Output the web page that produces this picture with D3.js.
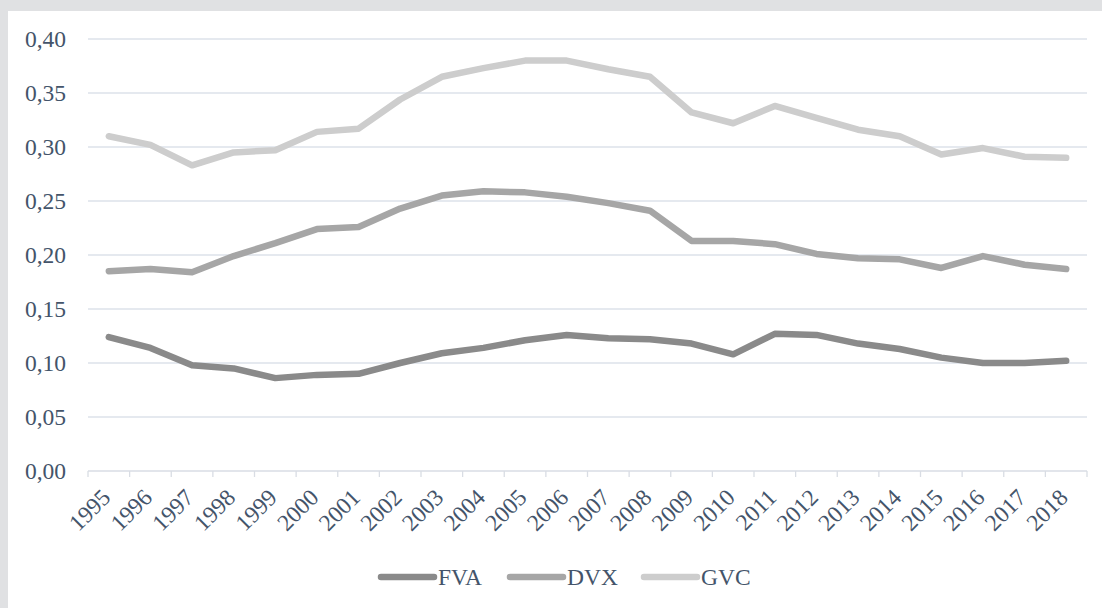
<!DOCTYPE html>
<html>
<head>
<meta charset="utf-8">
<script src="https://cdn.jsdelivr.net/npm/d3@7"></script>
<style>
  html, body { margin: 0; padding: 0; background: #e0e1e3; }
  svg { display: block; }
</style>
</head>
<body>
<svg id="chart" width="1102" height="608"></svg>
<script>
const years = ['1995','1996','1997','1998','1999','2000','2001','2002','2003','2004','2005','2006',
  '2007','2008','2009','2010','2011','2012','2013','2014','2015','2016','2017','2018'];

const fva = [0.124,0.114,0.098,0.095,0.086,0.089,0.090,0.100,0.109,0.114,0.121,0.126,
  0.123,0.122,0.118,0.108,0.127,0.126,0.118,0.113,0.105,0.100,0.100,0.102];
const dvx = [0.185,0.187,0.184,0.199,0.211,0.224,0.226,0.243,0.255,0.259,0.258,0.254,
  0.248,0.241,0.213,0.213,0.210,0.201,0.197,0.196,0.188,0.199,0.191,0.187];
const gvc = [0.310,0.302,0.283,0.295,0.297,0.314,0.317,0.344,0.365,0.373,0.380,0.380,
  0.372,0.365,0.332,0.322,0.338,0.327,0.316,0.310,0.293,0.299,0.291,0.290];

const seriesNames = ['FVA','DVX','GVC'];
const yTicks = [0,0.05,0.10,0.15,0.20,0.25,0.30,0.35,0.40];

const series = [
  {name: seriesNames[0], values: fva, color: '#8a8a8a'},
  {name: seriesNames[1], values: dvx, color: '#a6a6a6'},
  {name: seriesNames[2], values: gvc, color: '#cdcdcd'}
];

const FONT = "'Liberation Serif', 'Times New Roman', 'DejaVu Serif', serif";
const TEXT = '#44546a';

const svg = d3.select('#chart')
  .attr('font-family', FONT);

// white panel
svg.append('rect')
  .attr('x', 8).attr('y', 11)
  .attr('width', 1102 - 8).attr('height', 608 - 11)
  .attr('fill', '#fff');

const x = d3.scaleBand().domain(years).range([88, 1087]);
const y = d3.scaleLinear().domain([0, 0.40]).range([471, 39]);

const fmt = d => d3.format('.2f')(d).replace('.', ',');

// gridlines
svg.append('g')
  .selectAll('line')
  .data(yTicks.filter(d => d > 0))
  .enter().append('line')
  .attr('x1', 88).attr('x2', 1087)
  .attr('y1', d => y(d)).attr('y2', d => y(d))
  .attr('stroke', '#dde2ea')
  .attr('stroke-width', 1.3);

// y labels
svg.append('g')
  .selectAll('text')
  .data(yTicks)
  .enter().append('text')
  .attr('x', 66)
  .attr('y', d => y(d))
  .attr('dy', '0.34em')
  .attr('text-anchor', 'end')
  .attr('font-family', FONT)
  .attr('font-size', 23.5)
  .attr('fill', TEXT)
  .text(fmt);

// x axis line, ticks sit on the band edges
const xAxis = svg.append('g')
  .attr('transform', 'translate(0,471)');
xAxis.append('line')
  .attr('x1', 88).attr('x2', 1087)
  .attr('stroke', '#d9dde4').attr('stroke-width', 1.3);
const edges = years.map(d => x(d)).concat([x.range()[1]]);
xAxis.selectAll('.edge')
  .data(edges)
  .enter().append('line')
  .attr('x1', d => d).attr('x2', d => d)
  .attr('y1', 0).attr('y2', 6)
  .attr('stroke', '#d9dde4').attr('stroke-width', 1.3);

svg.append('g')
  .selectAll('text')
  .data(years)
  .enter().append('text')
  .attr('transform', d => `translate(${x(d) + x.bandwidth() / 2 + 3},499) rotate(-45)`)
  .attr('text-anchor', 'end')
  .attr('font-family', FONT)
  .attr('font-size', 23.5)
  .attr('fill', TEXT)
  .text(d => d);

// lines
const line = d3.line()
  .x((d, i) => x(years[i]) + x.bandwidth() / 2)
  .y(d => y(d));

svg.append('g')
  .selectAll('path')
  .data(series.slice().reverse())
  .enter().append('path')
  .attr('d', d => line(d.values))
  .attr('fill', 'none')
  .attr('stroke', d => d.color)
  .attr('stroke-width', 6.5)
  .attr('stroke-linejoin', 'round')
  .attr('stroke-linecap', 'round');

// legend
const legendX = [379, 508, 642];
const leg = svg.append('g')
  .selectAll('g')
  .data(series)
  .enter().append('g')
  .attr('transform', (d, i) => `translate(${legendX[i]},577)`);
leg.append('line')
  .attr('x1', 2).attr('x2', 55)
  .attr('stroke', d => d.color)
  .attr('stroke-width', 6.5)
  .attr('stroke-linecap', 'round');
leg.append('text')
  .attr('x', 59)
  .attr('dy', '0.34em')
  .attr('font-family', FONT)
  .attr('font-size', 23.5)
  .attr('fill', TEXT)
  .text(d => d.name);
</script>
</body>
</html>
